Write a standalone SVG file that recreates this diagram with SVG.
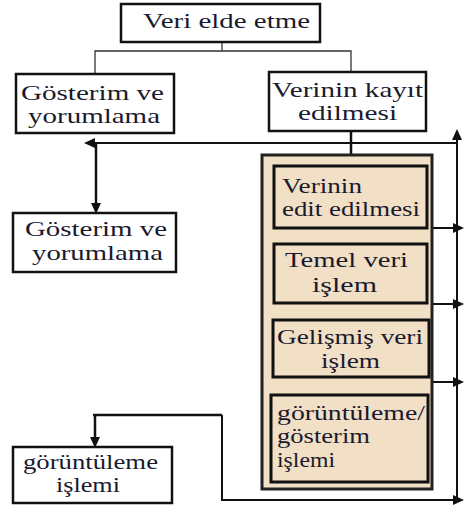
<svg xmlns="http://www.w3.org/2000/svg" xmlns:xlink="http://www.w3.org/1999/xlink" width="464" height="508" viewBox="0 0 464 508">
<defs>
<path id="arr" d="M0,0 L-11,-5 L-11,5 z" fill="#111"/>
</defs>
<style>
.box{fill:#fff;stroke:#111;stroke-width:2.5}
.ibox{fill:#f1dfc6;stroke:#111;stroke-width:3}
.big{fill:#f1dfc6;stroke:#222;stroke-width:3}
text{font-family:'Liberation Serif','DejaVu Serif',serif;font-size:21px;fill:#1a1a2e}
.thin{fill:none;stroke:#333;stroke-width:1.3}
.bold{fill:none;stroke:#111;stroke-width:2.5}
.mid{fill:none;stroke:#111;stroke-width:2}
</style>
<g id="connectors">
<polyline class="thin" points="222,42 222,51"/>
<polyline class="thin" points="95,73 95,51 351,51 351,72"/>
<polyline class="bold" points="351,131 351,163"/>
<line class="mid" x1="457" y1="143" x2="90" y2="143"/>
<use xlink:href="#arr" href="#arr" transform="translate(84,143) rotate(180)"/>
<line class="mid" x1="457" y1="500" x2="457" y2="136"/>
<use xlink:href="#arr" href="#arr" transform="translate(457,129) rotate(-90)"/>
<line class="bold" x1="96" y1="143" x2="96" y2="206"/>
<use xlink:href="#arr" href="#arr" transform="translate(96,214) rotate(90)"/>
<line class="mid" x1="432" y1="228" x2="456" y2="228"/>
<use xlink:href="#arr" href="#arr" transform="translate(464,228)"/>
<line class="mid" x1="432" y1="304" x2="456" y2="304"/>
<use xlink:href="#arr" href="#arr" transform="translate(464,304)"/>
<line class="mid" x1="432" y1="382" x2="456" y2="382"/>
<use xlink:href="#arr" href="#arr" transform="translate(464,382)"/>
<polyline class="mid" points="222,415 222,500 456,500"/>
<use xlink:href="#arr" href="#arr" transform="translate(464,500)"/>
<polyline class="bold" points="222,415 93,415"/>
<line class="bold" x1="95" y1="415" x2="95" y2="440"/>
<use xlink:href="#arr" href="#arr" transform="translate(95,448) rotate(90)"/>
</g>
<g id="n-veri-elde">
<rect class="box" x="121" y="4" width="199" height="38"/>
<text x="143" y="28" textLength="167" lengthAdjust="spacingAndGlyphs">Veri elde etme</text>
</g>
<g id="n-gosterim1">
<rect class="box" x="16" y="74" width="158" height="59"/>
<text x="21" y="100" textLength="143" lengthAdjust="spacingAndGlyphs">Gösterim ve</text>
<text x="28" y="123" textLength="132" lengthAdjust="spacingAndGlyphs">yorumlama</text>
</g>
<g id="n-kayit">
<rect class="box" x="269" y="72" width="157" height="59"/>
<text x="272" y="97" textLength="151" lengthAdjust="spacingAndGlyphs">Verinin kayıt</text>
<text x="298" y="120" textLength="99" lengthAdjust="spacingAndGlyphs">edilmesi</text>
</g>
<g id="n-gosterim2">
<rect class="box" x="13" y="213" width="163" height="59"/>
<text x="25" y="236" textLength="142" lengthAdjust="spacingAndGlyphs">Gösterim ve</text>
<text x="32" y="260" textLength="131" lengthAdjust="spacingAndGlyphs">yorumlama</text>
</g>
<g id="n-islem-group">
<rect class="big" x="262" y="155" width="170" height="334"/>
</g>
<g id="n-edit">
<rect class="ibox" x="274" y="166" width="153" height="62"/>
<text x="282" y="193" textLength="80" lengthAdjust="spacingAndGlyphs">Verinin</text>
<text x="282" y="216" textLength="138" lengthAdjust="spacingAndGlyphs">edit edilmesi</text>
</g>
<g id="n-temel">
<rect class="ibox" x="274" y="244" width="153" height="59"/>
<text x="285" y="267" textLength="123" lengthAdjust="spacingAndGlyphs">Temel veri</text>
<text x="312" y="292" textLength="65" lengthAdjust="spacingAndGlyphs">işlem</text>
</g>
<g id="n-gelismis">
<rect class="ibox" x="273" y="320" width="156" height="57"/>
<text x="277" y="344" textLength="146" lengthAdjust="spacingAndGlyphs">Gelişmiş veri</text>
<text x="321" y="368" textLength="59" lengthAdjust="spacingAndGlyphs">işlem</text>
</g>
<g id="n-goruntuleme-gosterim">
<rect class="ibox" x="271" y="395" width="157" height="87"/>
<text x="277" y="420" textLength="148" lengthAdjust="spacingAndGlyphs">görüntüleme/</text>
<text x="277" y="443" textLength="93" lengthAdjust="spacingAndGlyphs">gösterim</text>
<text x="277" y="467" textLength="58" lengthAdjust="spacingAndGlyphs">işlemi</text>
</g>
<g id="n-goruntuleme">
<rect class="box" x="13" y="447" width="159" height="56"/>
<text x="23" y="469" textLength="135" lengthAdjust="spacingAndGlyphs">görüntüleme</text>
<text x="56" y="492" textLength="64" lengthAdjust="spacingAndGlyphs">işlemi</text>
</g>
</svg>
